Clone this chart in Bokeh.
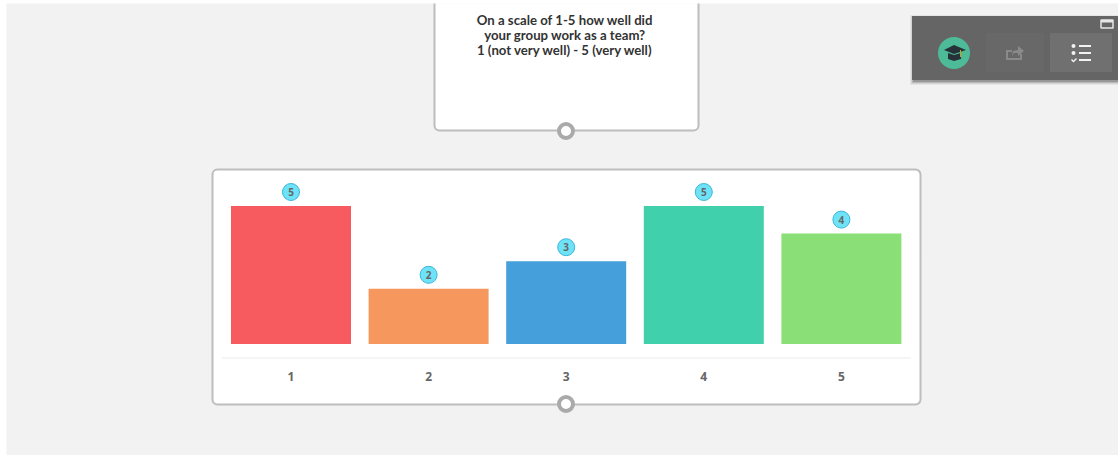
from bokeh.plotting import figure
from bokeh.models import BoxAnnotation, Label, Range1d, ColumnDataSource
from bokeh.core.properties import value
from bokeh.embed import file_html
from bokeh.resources import INLINE

categories = [1, 2, 3, 4, 5]
tick_labels = ["1", "2", "3", "4", "5"]
counts = [5, 2, 3, 5, 4]
colors = ["#f85b5f", "#f6985e", "#459fda", "#40d0ac", "#8ae076"]
question = ["On a scale of 1-5 how well did", "your group work as a team?", "1 (not very well) - 5 (very well)"]

OX, OY = 6.5, 3.5
W, H = 1112, 452
CAT_1_PX, PX_PER_CAT = 291, 137.6
BASE, PX_PER_UNIT = 344, 27.6
BADGE_UP = 14

p = figure(x_range=Range1d(1 + (OX - CAT_1_PX) / PX_PER_CAT, 1 + (OX + W - CAT_1_PX) / PX_PER_CAT),
           y_range=Range1d((BASE - OY - H) / PX_PER_UNIT, (BASE - OY) / PX_PER_UNIT),
           width=W, height=H, output_backend="svg", toolbar_location=None,
           x_axis_location=None, y_axis_location=None, min_border=0,
           margin=(3, 0, 0, 6),
           background_fill_color="#f2f2f2", border_fill_color="#f2f2f2", outline_line_color=None)
p.extra_x_ranges["px"] = Range1d(OX, OX + W)
p.extra_y_ranges["px"] = Range1d(OY + H, OY)
p.grid.visible = False


def box(l, t, r, b, fill, line=None, lw=1, radius=0, level="annotation", alpha=1.0):
    p.add_layout(BoxAnnotation(left=l, right=r, top=t, bottom=b, x_range_name="px", y_range_name="px",
                               fill_color=fill, fill_alpha=alpha, line_color=line, line_alpha=1, line_width=lw,
                               border_radius=radius, level=level, editable=False))


def poly(pts, fill):
    p.patch(x=[a for a, _ in pts], y=[b for _, b in pts], x_range_name="px", y_range_name="px",
            fill_color=fill, line_color=None, level="overlay")


# cards
box(434.5, -20, 698.5, 130.5, "white", "#bdbdbd", 2, 5, "underlay")
box(212.5, 169.5, 920.5, 404.5, "white", "#bdbdbd", 2, 5, "underlay")
box(222, 357.5, 911, 358.5, "#ececec", level="underlay")
for cy in (131, 404):
    box(559, cy - 7, 573, cy + 7, "white", "#aaaaaa", 4, 7)

# question text
for line, y in zip(question, (19.5, 34.5, 49.5)):
    p.add_layout(Label(x=565, y=y, x_range_name="px", y_range_name="px", text=line,
                       text_align="center", text_baseline="middle", text_font="Lato",
                       text_font_size="13.2px", text_font_style="bold", text_color="#333333"))

# bars and badges
src = ColumnDataSource(dict(cat=categories, val=counts, col=colors,
                            badge=[v + BADGE_UP / PX_PER_UNIT for v in counts],
                            txt=[str(v) for v in counts]))
p.vbar(x="cat", top="val", bottom=0, width=120 / PX_PER_CAT, fill_color="col", line_color=None, source=src)
p.scatter(x="cat", y="badge", size=17, fill_color="#6ee3f7", line_color="#3cb6d8", line_width=1, source=src)
p.text(x="cat", y="badge", text="txt", text_align="center", text_baseline="middle",
       text_font_size="10px", text_font=value("Open Sans"), text_font_style="bold",
       text_color="#666666", source=src)

# category labels
p.text(x=categories, y=[376] * 5, text=tick_labels, y_range_name="px", text_align="center",
       text_baseline="middle", text_font_size="12px", text_font=value("Open Sans"),
       text_font_style="bold", text_color="#666666")

# floating panel
for i, a in enumerate((0.05, 0.08, 0.12, 0.18)):
    box(910 + i, 15 + i, 1125, 85 - i, "#000000", None, alpha=a)
box(912, 16, 1125, 80, "#656565")
box(986, 33, 1044, 72, "#686868")
box(1050, 33, 1112, 72, "#707070")
box(1101, 20, 1113, 28, "#656565", "#e6e6e6", 1.5)
box(1101, 20, 1113, 22.5, "#e6e6e6")
box(938, 37, 970, 69, "#4dbb97", radius=16)
poly([(944, 50), (954, 45), (966, 50), (954, 54)], "#263238")
poly([(948, 53), (954, 55), (961, 53), (961, 59), (954, 61), (948, 59)], "#263238")
poly([(960, 50), (961, 50), (961, 57), (960, 57)], "#d4a017")
poly([(1006, 50), (1012, 50), (1012, 52), (1008, 52), (1008, 58), (1020, 58), (1020, 54), (1022, 54),
      (1022, 60), (1006, 60)], "#8a8a8a")
poly([(1012, 56), (1013, 51), (1018, 50), (1018, 46), (1024, 51), (1018, 56), (1018, 53), (1014, 53)], "#8a8a8a")
for cy in (46, 53):
    box(1071.5, cy - 2, 1075.5, cy + 2, "#f2f2f2", radius=2)
for cy in (46, 53, 60):
    box(1079, cy - 1, 1091, cy + 1, "#f2f2f2")
poly([(1071, 60), (1072, 59), (1073.5, 60.5), (1076, 58), (1077, 59), (1073.5, 62.5)], "#f2f2f2")

open("out.html", "w").write(file_html(p, INLINE))
